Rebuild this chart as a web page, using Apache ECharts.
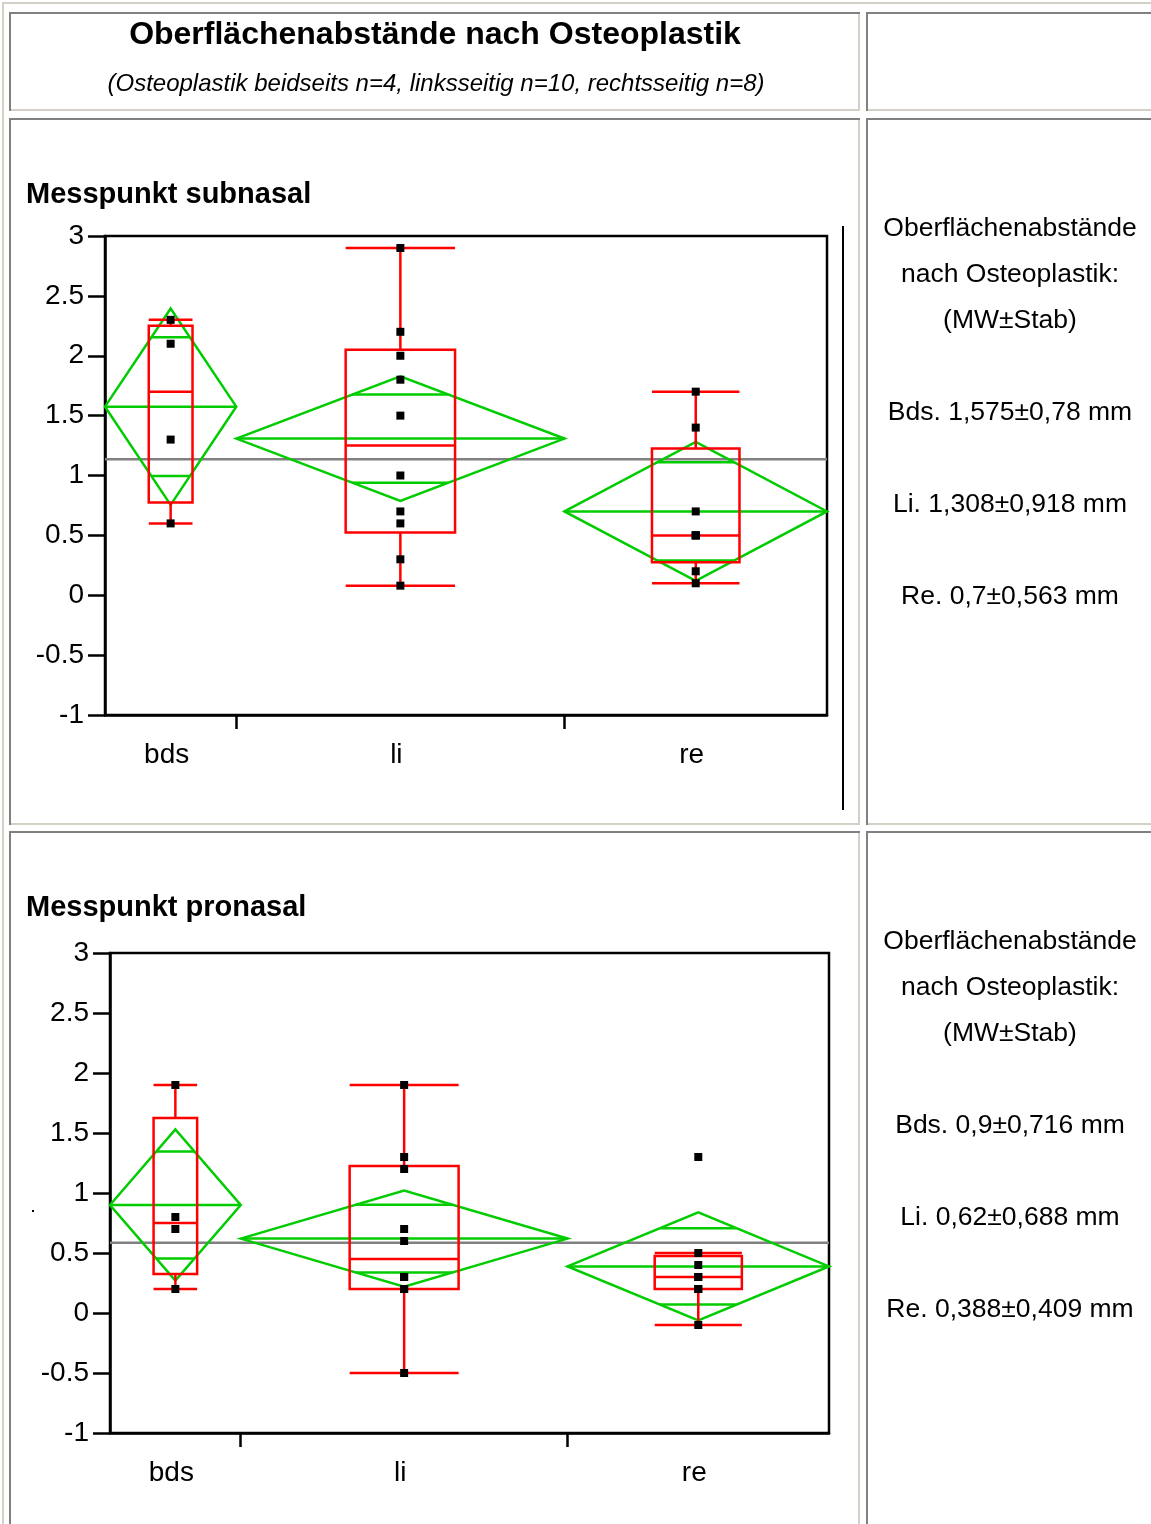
<!DOCTYPE html>
<html>
<head>
<meta charset="utf-8">
<script src="https://cdn.jsdelivr.net/npm/echarts@6/dist/echarts.min.js"></script>
<style>
html,body{margin:0;padding:0;background:#fff;}
#chart{width:1151px;height:1524px;}
</style>
</head>
<body>
<div id="chart"></div>
<script>
// ---------------- DATA ----------------
const groups = ['bds', 'li', 're'];
const groupN = [4, 10, 8];

// Messpunkt subnasal
const subPointsBds = [2.3, 2.1, 1.3, 0.6];
const subPointsLi = [2.9, 2.2, 2.0, 1.8, 1.5, 1.0, 0.7, 0.6, 0.3, 0.08];
const subPointsRe = [1.7, 1.4, 0.7, 0.5, 0.5, 0.5, 0.2, 0.1];
const subMeans = [1.575, 1.308, 0.7];
const subCiHalf = [0.82, 0.52, 0.58];
const subWhiskerLow = [0.6, 0.08, 0.1];
const subQ1 = [0.775, 0.525, 0.275];
const subMedian = [1.7, 1.25, 0.5];
const subQ3 = [2.25, 2.05, 1.225];
const subWhiskerHigh = [2.3, 2.9, 1.7];
const subGrandMean = 1.135;

// Messpunkt pronasal
const proPointsBds = [1.9, 0.8, 0.7, 0.2];
const proPointsLi = [1.9, 1.3, 1.2, 0.7, 0.6, 0.3, 0.3, 0.2, 0.2, -0.5];
const proPointsRe = [1.3, 0.5, 0.4, 0.3, 0.3, 0.2, 0.2, -0.1];
const proMeans = [0.9, 0.62, 0.388];
const proCiHalf = [0.63, 0.40, 0.45];
const proWhiskerLow = [0.2, -0.5, -0.1];
const proQ1 = [0.325, 0.2, 0.2];
const proMedian = [0.75, 0.45, 0.3];
const proQ3 = [1.625, 1.225, 0.475];
const proWhiskerHigh = [1.9, 1.9, 0.5];
const proGrandMean = 0.586;

// Texts
const mainTitle = 'Oberflächenabstände nach Osteoplastik';
const subTitle = '(Osteoplastik beidseits n=4, linksseitig n=10, rechtsseitig n=8)';
const subSectionTitle = 'Messpunkt subnasal';
const proSectionTitle = 'Messpunkt pronasal';
const subSideText = ['Oberflächenabstände', 'nach Osteoplastik:', '(MW±Stab)', '', 'Bds. 1,575±0,78 mm', '', 'Li. 1,308±0,918 mm', '', 'Re. 0,7±0,563 mm'];
const proSideText = ['Oberflächenabstände', 'nach Osteoplastik:', '(MW±Stab)', '', 'Bds. 0,9±0,716 mm', '', 'Li. 0,62±0,688 mm', '', 'Re. 0,388±0,409 mm'];

// ---------------- LAYOUT ----------------
const FONT = '"Liberation Sans", Arial, Helvetica, sans-serif';
const GREEN = '#00cc00', RED = '#ff0000', GREY = '#808080', LIGHT = '#d4d0c8';
const LW = 2.5;
const totalN = groupN.reduce((a, b) => a + b, 0);
const starts = [];
groupN.reduce((acc, n, i) => { starts[i] = acc; return acc + n; }, 0);
const centers = groupN.map((n, i) => starts[i] + n / 2);

const plots = [
  { grid: { left: 105, top: 236, width: 722, height: 479 },
    points: [subPointsBds, subPointsLi, subPointsRe], means: subMeans, ci: subCiHalf,
    lo: subWhiskerLow, q1: subQ1, med: subMedian, q3: subQ3, hi: subWhiskerHigh, gm: subGrandMean },
  { grid: { left: 110, top: 953, width: 719, height: 480 },
    points: [proPointsBds, proPointsLi, proPointsRe], means: proMeans, ci: proCiHalf,
    lo: proWhiskerLow, q1: proQ1, med: proMedian, q3: proQ3, hi: proWhiskerHigh, gm: proGrandMean }
];

function lineEl(a, b, color) {
  return { type: 'line', shape: { x1: a[0], y1: a[1], x2: b[0], y2: b[1] },
           style: { stroke: color, lineWidth: LW } };
}

const grids = [], xAxes = [], yAxes = [], series = [];
plots.forEach((p, k) => {
  grids.push(Object.assign({ show: true, borderColor: '#000', borderWidth: 2.5, backgroundColor: 'transparent' }, p.grid));
  xAxes.push({
    gridIndex: k, type: 'value', min: 0, max: totalN,
    axisLine: { show: true, onZero: false, lineStyle: { color: '#000', width: 2.5 } },
    axisTick: { show: true, customValues: starts.slice(1), length: 14, lineStyle: { color: '#000', width: 2.5 } },
    axisLabel: { show: true, customValues: centers, margin: 26, color: '#000', fontSize: 28, fontFamily: FONT,
                 padding: [0, 8, 0, 0],
                 formatter: v => { const i = centers.findIndex(c => Math.abs(c - v) < 1e-6); return i >= 0 ? groups[i] : ''; } },
    splitLine: { show: false }
  });
  yAxes.push({
    gridIndex: k, type: 'value', min: -1, max: 3, interval: 0.5,
    axisLine: { show: true, onZero: false, lineStyle: { color: '#000', width: 2.5 } },
    axisTick: { show: true, length: 17, lineStyle: { color: '#000', width: 2.5 } },
    axisLabel: { margin: 21, color: '#000', fontSize: 28, fontFamily: FONT },
    splitLine: { show: false }
  });
  // grand mean line
  series.push({ type: 'line', xAxisIndex: k, yAxisIndex: k, data: [[0, p.gm], [totalN, p.gm]],
                symbol: 'none', lineStyle: { color: GREY, width: LW }, silent: true, z: 2 });
  // means diamonds
  series.push({
    type: 'custom', xAxisIndex: k, yAxisIndex: k, z: 3, silent: true,
    data: groups.map((g, i) => [centers[i], p.means[i]]),
    renderItem: (params, api) => {
      const i = params.dataIndex;
      const x0 = starts[i], x1 = starts[i] + groupN[i], xc = centers[i];
      const m = p.means[i], c = p.ci[i], o = c / Math.SQRT2;
      const hw = (groupN[i] / 2) * (1 - o / c);
      const pL = api.coord([x0, m]), pR = api.coord([x1, m]);
      const pT = api.coord([xc, m + c]), pB = api.coord([xc, m - c]);
      return { type: 'group', children: [
        { type: 'polygon', shape: { points: [pL, pT, pR, pB] }, style: { fill: 'none', stroke: GREEN, lineWidth: LW } },
        lineEl(pL, pR, GREEN),
        lineEl(api.coord([xc - hw, m + o]), api.coord([xc + hw, m + o]), GREEN),
        lineEl(api.coord([xc - hw, m - o]), api.coord([xc + hw, m - o]), GREEN)
      ]};
    }
  });
  // box plots
  series.push({
    type: 'custom', xAxisIndex: k, yAxisIndex: k, z: 4, silent: true,
    data: groups.map((g, i) => [centers[i], p.med[i]]),
    renderItem: (params, api) => {
      const i = params.dataIndex;
      const xc = centers[i], bw = groupN[i] / 6;
      const tl = api.coord([xc - bw, p.q3[i]]), br = api.coord([xc + bw, p.q1[i]]);
      return { type: 'group', children: [
        { type: 'rect', shape: { x: tl[0], y: tl[1], width: br[0] - tl[0], height: br[1] - tl[1] },
          style: { fill: 'none', stroke: RED, lineWidth: LW } },
        lineEl(api.coord([xc - bw, p.med[i]]), api.coord([xc + bw, p.med[i]]), RED),
        lineEl(api.coord([xc, p.q3[i]]), api.coord([xc, p.hi[i]]), RED),
        lineEl(api.coord([xc, p.q1[i]]), api.coord([xc, p.lo[i]]), RED),
        lineEl(api.coord([xc - bw, p.hi[i]]), api.coord([xc + bw, p.hi[i]]), RED),
        lineEl(api.coord([xc - bw, p.lo[i]]), api.coord([xc + bw, p.lo[i]]), RED)
      ]};
    }
  });
  // points
  series.push({
    type: 'scatter', xAxisIndex: k, yAxisIndex: k, z: 5, silent: true,
    symbol: 'rect', symbolSize: 8, itemStyle: { color: '#000', opacity: 1 },
    data: p.points.flatMap((arr, i) => arr.map(v => [centers[i], v]))
  });
});

// ---------------- PAGE FRAME (table borders + texts) ----------------
const graphics = [];
function bar(x, y, w, h, c) {
  graphics.push({ type: 'rect', silent: true, z: -1, shape: { x, y, width: w, height: h }, style: { fill: c } });
}
function cell(x1, y1, x2, y2) {
  bar(x1, y1, x2 - x1, 2, GREY);
  bar(x1, y1, 2, y2 - y1, GREY);
  bar(x2 - 2, y1 + 2, 2, y2 - y1 - 2, LIGHT);
  bar(x1 + 2, y2 - 2, x2 - x1 - 2, 2, LIGHT);
}
bar(2, 2, 1160, 2, LIGHT);
bar(2, 2, 2, 1540, LIGHT);
cell(9, 12, 860, 111); cell(866, 12, 1170, 111);
cell(9, 118, 860, 825); cell(866, 118, 1170, 825);
cell(9, 831, 860, 1560); cell(866, 831, 1170, 1560);
// extra vertical rule beside the subnasal plot
bar(842, 226, 2, 584, '#000');
// stray dot
bar(32, 1210, 2, 2, '#000');

function text(str, x, y, opts) {
  graphics.push({ type: 'text', silent: true, x, y,
    style: Object.assign({ text: str, fill: '#000', fontFamily: FONT, fontSize: 26.5,
                           textAlign: 'center', textVerticalAlign: 'middle' }, opts) });
}
text(mainTitle, 435, 35, { fontSize: 32, fontWeight: 'bold' });
text(subTitle, 436, 84, { fontSize: 24, fontStyle: 'italic' });
text(subSectionTitle, 26, 195, { fontSize: 29, fontWeight: 'bold', textAlign: 'left' });
text(proSectionTitle, 26, 908, { fontSize: 29, fontWeight: 'bold', textAlign: 'left' });
subSideText.forEach((s, i) => { if (s) text(s, 1010, 229 + i * 46); });
proSideText.forEach((s, i) => { if (s) text(s, 1010, 942 + i * 46); });

const chart = echarts.init(document.getElementById('chart'));
chart.setOption({
  animation: false,
  backgroundColor: '#fff',
  grid: grids,
  xAxis: xAxes,
  yAxis: yAxes,
  series: series,
  graphic: { elements: graphics }
});
</script>
</body>
</html>
